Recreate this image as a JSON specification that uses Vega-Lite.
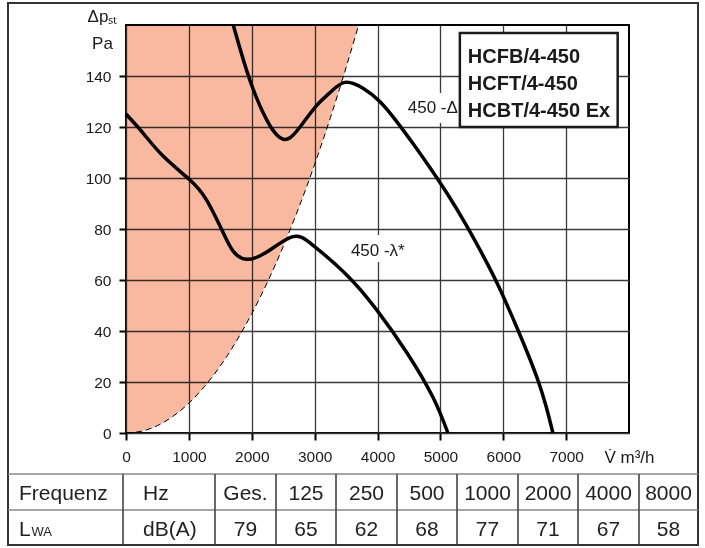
{
  "$schema": "https://vega.github.io/schema/vega-lite/v6.json",
  "width": 503,
  "height": 408,
  "autosize": {"type": "none"},
  "padding": {"left": 126, "top": 25, "right": 76, "bottom": 115},
  "background": "white",
  "config": {
    "view": {"stroke": "#000000", "strokeWidth": 2},
    "font": "Liberation Sans",
    "axis": {
      "domain": false,
      "grid": true,
      "gridColor": "#3a3a3a",
      "gridWidth": 1.3,
      "gridOpacity": 1,
      "tickColor": "#000000",
      "tickWidth": 2,
      "tickSize": 7,
      "labelFont": "Liberation Sans",
      "labelFontSize": 15.5,
      "labelColor": "#1a1a1a",
      "labelFlush": false,
      "labelOverlap": false,
      "titleFont": "Liberation Sans",
      "titleFontWeight": "normal",
      "titleColor": "#1a1a1a",
      "titleFontSize": 17
    }
  },
  "datasets": {
    "bound": [
      {"V": 0, "p": 0}, {"V": 250, "p": 0.7}, {"V": 500, "p": 2.9}, {"V": 750, "p": 6.6},
      {"V": 1000, "p": 11.7}, {"V": 1250, "p": 18.3}, {"V": 1500, "p": 26.3}, {"V": 1750, "p": 35.8},
      {"V": 2000, "p": 46.8}, {"V": 2250, "p": 59.2}, {"V": 2500, "p": 73.1}, {"V": 2750, "p": 88.5},
      {"V": 3000, "p": 105.3}, {"V": 3250, "p": 123.6}, {"V": 3500, "p": 143.3}, {"V": 3700, "p": 160}
    ],
    "curves": [
      {"c": "delta", "V": 1706, "p": 160}, {"c": "delta", "V": 1970, "p": 138.4}, {"c": "delta", "V": 2240, "p": 122.7},
      {"c": "delta", "V": 2400, "p": 116.9}, {"c": "delta", "V": 2500, "p": 115.2}, {"c": "delta", "V": 2610, "p": 115.8},
      {"c": "delta", "V": 2770, "p": 120.1}, {"c": "delta", "V": 3030, "p": 128.4}, {"c": "delta", "V": 3250, "p": 133.6},
      {"c": "delta", "V": 3480, "p": 137.5}, {"c": "delta", "V": 3770, "p": 135.2}, {"c": "delta", "V": 4040, "p": 129.9},
      {"c": "delta", "V": 4300, "p": 122.3}, {"c": "delta", "V": 4570, "p": 113.3}, {"c": "delta", "V": 4830, "p": 104.2},
      {"c": "delta", "V": 5100, "p": 94.2}, {"c": "delta", "V": 5400, "p": 82.0}, {"c": "delta", "V": 5700, "p": 68.6},
      {"c": "delta", "V": 5950, "p": 56.3}, {"c": "delta", "V": 6230, "p": 40.6}, {"c": "delta", "V": 6400, "p": 30.5},
      {"c": "delta", "V": 6550, "p": 20.8}, {"c": "delta", "V": 6680, "p": 10.6}, {"c": "delta", "V": 6790, "p": 0},
      {"c": "star", "V": 0, "p": 125.1}, {"c": "star", "V": 275, "p": 117.5}, {"c": "star", "V": 590, "p": 108.6},
      {"c": "star", "V": 1000, "p": 99.6}, {"c": "star", "V": 1280, "p": 91.4}, {"c": "star", "V": 1550, "p": 78.3},
      {"c": "star", "V": 1710, "p": 71.1}, {"c": "star", "V": 1920, "p": 68.1}, {"c": "star", "V": 2240, "p": 71.0},
      {"c": "star", "V": 2640, "p": 76.9}, {"c": "star", "V": 2970, "p": 73.7}, {"c": "star", "V": 3510, "p": 62.0},
      {"c": "star", "V": 3990, "p": 48.2}, {"c": "star", "V": 4470, "p": 31.4}, {"c": "star", "V": 4880, "p": 14.1},
      {"c": "star", "V": 5120, "p": 0}
    ],
    "labels": [
      {"label": "450 -Δ", "V": 4880, "p": 125.5, "V0": 4470, "V1": 5290, "p0": 121.6, "p1": 133.3},
      {"label": "450 -λ*", "V": 4005, "p": 69.4, "V0": 3560, "V1": 4450, "p0": 67.1, "p1": 77.6}
    ],
    "modelBox": [{"V0": 5310, "V1": 7820, "p0": 120, "p1": 156.9}],
    "models": [
      {"name": "HCFB/4-450", "V": 5437, "p": 145.1},
      {"name": "HCFT/4-450", "V": 5437, "p": 134.5},
      {"name": "HCBT/4-450 Ex", "V": 5437, "p": 123.9}
    ],
    "frame": [{"x0": 0, "x1": 10, "y0": -1, "y1": 2}],
    "lines": [
      {"k": "h", "x0": 0, "x1": 10, "y0": 0, "y1": 0},
      {"k": "h", "x0": 0, "x1": 10, "y0": 1, "y1": 1},
      {"k": "v", "x0": 1, "x1": 1, "y0": 0, "y1": 2},
      {"k": "v", "x0": 2, "x1": 2, "y0": 0, "y1": 2},
      {"k": "v", "x0": 3, "x1": 3, "y0": 0, "y1": 2},
      {"k": "v", "x0": 4, "x1": 4, "y0": 0, "y1": 2},
      {"k": "v", "x0": 5, "x1": 5, "y0": 0, "y1": 2},
      {"k": "v", "x0": 6, "x1": 6, "y0": 0, "y1": 2},
      {"k": "v", "x0": 7, "x1": 7, "y0": 0, "y1": 2},
      {"k": "v", "x0": 8, "x1": 8, "y0": 0, "y1": 2},
      {"k": "v", "x0": 9, "x1": 9, "y0": 0, "y1": 2}
    ],
    "table": [
      {"r": 0, "c": 0, "t": "Frequenz"}, {"r": 0, "c": 1, "t": "Hz"}, {"r": 0, "c": 2, "t": "Ges."},
      {"r": 0, "c": 3, "t": "125"}, {"r": 0, "c": 4, "t": "250"}, {"r": 0, "c": 5, "t": "500"},
      {"r": 0, "c": 6, "t": "1000"}, {"r": 0, "c": 7, "t": "2000"}, {"r": 0, "c": 8, "t": "4000"},
      {"r": 0, "c": 9, "t": "8000"},
      {"r": 1, "c": 0, "t": "L"}, {"r": 1, "c": 1, "t": "dB(A)"}, {"r": 1, "c": 2, "t": "79"},
      {"r": 1, "c": 3, "t": "65"}, {"r": 1, "c": 4, "t": "62"}, {"r": 1, "c": 5, "t": "68"},
      {"r": 1, "c": 6, "t": "77"}, {"r": 1, "c": 7, "t": "71"}, {"r": 1, "c": 8, "t": "67"},
      {"r": 1, "c": 9, "t": "58"}
    ],
    "sub": [{"r": 1, "c": 0, "t": "WA"}]
  },
  "layer": [
    {
      "layer": [
        {
          "data": {"name": "bound"},
          "mark": {"type": "area", "orient": "vertical", "color": "#F8B9A0", "blend": "multiply", "interpolate": "monotone"},
          "encoding": {
            "x": {
              "field": "V", "type": "quantitative",
              "scale": {"domain": [0, 8000], "nice": false, "zero": false},
              "axis": {
                "values": [0, 1000, 2000, 3000, 4000, 5000, 6000, 7000],
                "format": "d",
                "labelPadding": 9,
                "title": "V̇ m³/h",
                "titleX": 503,
                "titleY": 29,
                "titleAlign": "center",
                "titleBaseline": "alphabetic"
              }
            },
            "y": {
              "field": "p", "type": "quantitative",
              "scale": {"domain": [0, 160], "nice": false, "zero": false},
              "axis": {
                "values": [0, 20, 40, 60, 80, 100, 120, 140],
                "format": "d",
                "labelPadding": 8,
                "title": ["Δpₛₜ", "Pa"],
                "titleAngle": 0,
                "titleX": -24,
                "titleY": -4,
                "titleAlign": "center",
                "titleBaseline": "alphabetic",
                "titleLineHeight": 27
              }
            },
            "y2": {"datum": 160}
          }
        },
        {
          "data": {"name": "labels"},
          "mark": {"type": "rect", "color": "white"},
          "encoding": {
            "x": {"field": "V0", "type": "quantitative"},
            "x2": {"field": "V1"},
            "y": {"field": "p0", "type": "quantitative"},
            "y2": {"field": "p1"}
          }
        },
        {
          "data": {"name": "bound"},
          "mark": {"type": "line", "color": "#000000", "strokeWidth": 1, "strokeDash": [6, 4], "interpolate": "monotone"},
          "encoding": {
            "x": {"field": "V", "type": "quantitative"},
            "y": {"field": "p", "type": "quantitative"}
          }
        },
        {
          "data": {"name": "curves"},
          "mark": {"type": "line", "color": "#000000", "strokeWidth": 3.5, "interpolate": "natural"},
          "encoding": {
            "x": {"field": "V", "type": "quantitative"},
            "y": {"field": "p", "type": "quantitative"},
            "detail": {"field": "c"}
          }
        },
        {
          "data": {"name": "labels"},
          "mark": {"type": "text", "font": "Liberation Sans", "fontSize": 17, "color": "#1a1a1a", "align": "center", "baseline": "alphabetic"},
          "encoding": {
            "x": {"field": "V", "type": "quantitative"},
            "y": {"field": "p", "type": "quantitative"},
            "text": {"field": "label"}
          }
        },
        {
          "data": {"name": "modelBox"},
          "mark": {"type": "rect", "fill": "white", "stroke": "#1a1a1a", "strokeWidth": 2.5},
          "encoding": {
            "x": {"field": "V0", "type": "quantitative"},
            "x2": {"field": "V1"},
            "y": {"field": "p0", "type": "quantitative"},
            "y2": {"field": "p1"}
          }
        },
        {
          "data": {"name": "models"},
          "mark": {"type": "text", "font": "Liberation Sans", "fontWeight": "bold", "fontSize": 20, "color": "#1a1a1a", "align": "left", "baseline": "alphabetic"},
          "encoding": {
            "x": {"field": "V", "type": "quantitative"},
            "y": {"field": "p", "type": "quantitative"},
            "text": {"field": "name"}
          }
        }
      ]
    },
    {
      "layer": [
        {
          "data": {"name": "frame"},
          "mark": {"type": "rect", "filled": false, "stroke": "#333333", "strokeWidth": 2},
          "encoding": {
            "x": {"field": "x0", "type": "quantitative", "axis": null,
              "scale": {"domain": [0, 1, 2, 3, 4, 5, 6, 7, 8, 9, 10], "range": [-118, -3, 89, 150, 210, 271, 331, 392, 452, 513, 572], "zero": false, "nice": false}},
            "x2": {"field": "x1"},
            "y": {"field": "y0", "type": "quantitative", "axis": null,
              "scale": {"domain": [-1, 0, 1, 2], "range": [-22, 449, 485, 520], "zero": false, "nice": false}},
            "y2": {"field": "y1"}
          }
        },
        {
          "data": {"name": "lines"},
          "mark": {"type": "rule", "strokeWidth": 1.6},
          "encoding": {
            "x": {"field": "x0", "type": "quantitative", "axis": null,
              "scale": {"domain": [0, 1, 2, 3, 4, 5, 6, 7, 8, 9, 10], "range": [-118, -3, 89, 150, 210, 271, 331, 392, 452, 513, 572], "zero": false, "nice": false}},
            "x2": {"field": "x1"},
            "y": {"field": "y0", "type": "quantitative", "axis": null,
              "scale": {"domain": [-1, 0, 1, 2], "range": [-22, 449, 485, 520], "zero": false, "nice": false}},
            "y2": {"field": "y1"},
            "color": {"field": "k", "type": "nominal", "legend": null,
              "scale": {"domain": ["h", "v"], "range": ["#888888", "#444444"]}}
          }
        },
        {
          "data": {"name": "table"},
          "transform": [{"filter": "datum.c < 2"}],
          "mark": {"type": "text", "font": "Liberation Sans", "fontSize": 21, "color": "#222222", "align": "left", "baseline": "alphabetic"},
          "encoding": {
            "x": {"field": "c", "type": "quantitative", "axis": null,
              "scale": {"domain": [0, 1, 2, 3, 4, 5, 6, 7, 8, 9], "range": [-107, 17, 119.5, 180, 240.5, 301, 361.5, 422, 482.5, 542.5], "zero": false, "nice": false}},
            "y": {"field": "r", "type": "quantitative", "axis": null,
              "scale": {"domain": [0, 1], "range": [475, 511], "zero": false, "nice": false}},
            "text": {"field": "t"}
          }
        },
        {
          "data": {"name": "table"},
          "transform": [{"filter": "datum.c >= 2"}],
          "mark": {"type": "text", "font": "Liberation Sans", "fontSize": 21, "color": "#222222", "align": "center", "baseline": "alphabetic"},
          "encoding": {
            "x": {"field": "c", "type": "quantitative", "axis": null,
              "scale": {"domain": [0, 1, 2, 3, 4, 5, 6, 7, 8, 9], "range": [-107, 17, 119.5, 180, 240.5, 301, 361.5, 422, 482.5, 542.5], "zero": false, "nice": false}},
            "y": {"field": "r", "type": "quantitative", "axis": null,
              "scale": {"domain": [0, 1], "range": [475, 511], "zero": false, "nice": false}},
            "text": {"field": "t"}
          }
        },
        {
          "data": {"name": "sub"},
          "mark": {"type": "text", "font": "Liberation Sans", "fontSize": 13, "color": "#222222", "align": "left", "baseline": "alphabetic", "dx": 12.5},
          "encoding": {
            "x": {"field": "c", "type": "quantitative", "axis": null,
              "scale": {"domain": [0, 1, 2, 3, 4, 5, 6, 7, 8, 9], "range": [-107, 17, 119.5, 180, 240.5, 301, 361.5, 422, 482.5, 542.5], "zero": false, "nice": false}},
            "y": {"field": "r", "type": "quantitative", "axis": null,
              "scale": {"domain": [0, 1], "range": [475, 511], "zero": false, "nice": false}},
            "text": {"field": "t"}
          }
        }
      ],
      "resolve": {"scale": {"x": "independent", "y": "independent"}}
    }
  ],
  "resolve": {"scale": {"x": "independent", "y": "independent"}}
}
